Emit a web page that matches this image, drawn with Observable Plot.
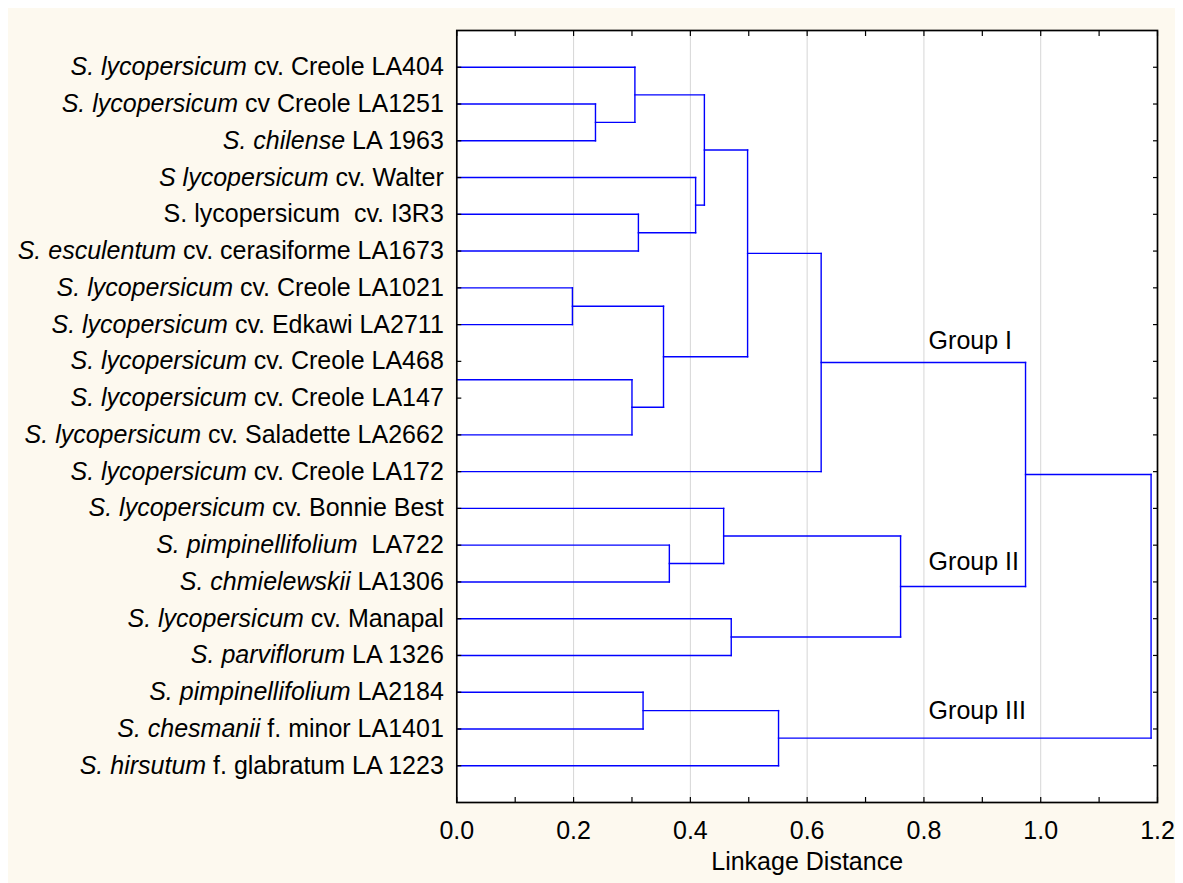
<!DOCTYPE html>
<html>
<head>
<meta charset="utf-8">
<script src="https://cdn.jsdelivr.net/npm/d3@7"></script>
<script src="https://cdn.jsdelivr.net/npm/@observablehq/plot@0.6"></script>
<style>
  html, body { margin: 0; padding: 0; background: #ffffff; }
  body { margin: 8px; }
  #chart { background: #fdf9ef; width: 1175px; height: 875px; overflow: hidden; }
  #chart svg text { white-space: pre; }
</style>
</head>
<body>
<div id="chart"></div>
<script>
// ---- Leaf labels (italic part + plain part), top to bottom ----
const italicPart = [
  "S. lycopersicum", "S. lycopersicum", "S. chilense", "S lycopersicum", "",
  "S. esculentum", "S. lycopersicum", "S. lycopersicum", "S. lycopersicum", "S. lycopersicum",
  "S. lycopersicum", "S. lycopersicum", "S. lycopersicum", "S. pimpinellifolium", "S. chmielewskii",
  "S. lycopersicum", "S. parviflorum", "S. pimpinellifolium", "S. chesmanii", "S. hirsutum"
];
const plainPart = [
  " cv. Creole LA404", " cv Creole LA1251", " LA 1963", " cv. Walter", "S. lycopersicum  cv. I3R3",
  " cv. cerasiforme LA1673", " cv. Creole LA1021", " cv. Edkawi LA2711", " cv. Creole LA468", " cv. Creole LA147",
  " cv. Saladette LA2662", " cv. Creole LA172", " cv. Bonnie Best", "  LA722", " LA1306",
  " cv. Manapal", " LA 1326", " LA2184", " f. minor LA1401", " f. glabratum LA 1223"
];
const labelRow = d3.range(20);

// ---- Tree leaves: row of each branch line as drawn in the figure ----
const branchRow = [0, 1, 2, 3, 4, 5, 6, 7, 8.5, 10, 11, 12, 13, 14, 15, 16, 17, 18, 19];

// ---- Merges (ids: leaves 0..18, merge k gets id 19+k) ----
const mergeLeft   = [1, 0, 4, 3, 20, 6, 8, 24, 23, 27, 12, 11, 14, 30, 28, 16, 34, 33];
const mergeRight  = [2, 19, 5, 21, 22, 7, 9, 25, 26, 10, 13, 29, 15, 31, 32, 17, 18, 35];
const mergeHeight = [0.2375, 0.305, 0.311, 0.409, 0.424, 0.198, 0.300, 0.354, 0.498, 0.624,
                     0.364, 0.457, 0.470, 0.760, 0.974, 0.319, 0.551, 1.189];

// ---- Group annotations ----
const groupName = ["Group I", "Group II", "Group III"];
const groupX = [0.808, 0.808, 0.808];
const groupY = [7.44, 13.45, 17.5];

// ---- Axis ticks ----
const xMajor = [0, 0.2, 0.4, 0.6, 0.8, 1.0, 1.2];
const xAll = d3.range(0, 13).map(i => i / 10);
const gridX = [0.2, 0.4, 0.6, 0.8, 1.0];

// ---- Build dendrogram segments ----
const nodeH = branchRow.map(() => 0);
const nodeY = branchRow.slice();
const segments = [];
mergeLeft.forEach((a, k) => {
  const b = mergeRight[k], h = mergeHeight[k];
  segments.push({x1: nodeH[a], y1: nodeY[a], x2: h, y2: nodeY[a]});
  segments.push({x1: nodeH[b], y1: nodeY[b], x2: h, y2: nodeY[b]});
  segments.push({x1: h, y1: nodeY[a], x2: h, y2: nodeY[b]});
  nodeH.push(h);
  nodeY.push((nodeY[a] + nodeY[b]) / 2);
});

const labels = labelRow.map((r, i) => ({row: r, full: italicPart[i] + plainPart[i]}));
const groups = groupName.map((g, i) => ({name: g, x: groupX[i], y: groupY[i]}));

const font = "'Liberation Sans', Arial, Helvetica, sans-serif";
const FS = 25;

const svg = Plot.plot({
  width: 1175,
  height: 875,
  marginLeft: 448.3,
  marginRight: 26,
  marginTop: 22,
  marginBottom: 81,
  style: {background: "transparent", fontFamily: font, fontSize: FS + "px", color: "#000"},
  x: {domain: [0, 1.2], label: null},
  y: {domain: [20, -1], label: null},
  marks: [
    Plot.frame({fill: "#ffffff", stroke: "none"}),
    Plot.ruleX(gridX, {stroke: "#d6d6d6", strokeWidth: 1}),
    Plot.link(segments, {x1: "x1", y1: "y1", x2: "x2", y2: "y2", stroke: "#0000ff", strokeWidth: 1.4, strokeLinecap: "square"}),
    Plot.frame({stroke: "#000", strokeWidth: 1.7}),
    Plot.axisX(xAll, {anchor: "bottom", tickSize: -5, fill: "none", label: null, stroke: "#000", strokeWidth: 1.2}),
    Plot.axisX(xAll, {anchor: "top", tickSize: -5, fill: "none", label: null, stroke: "#000", strokeWidth: 1.2}),
    Plot.axisX(xMajor, {anchor: "bottom", tickSize: 0, tickPadding: 19, tickFormat: d3.format(".1f"), fontSize: FS, fill: "#000", label: null}),
    Plot.axisY(labelRow, {anchor: "left", tickSize: -5, fill: "none", label: null, stroke: "#000", strokeWidth: 1.2}),
    Plot.axisY(labelRow, {anchor: "right", tickSize: -5, fill: "none", label: null, stroke: "#000", strokeWidth: 1.2}),
    Plot.text(labels, {x: 0, y: "row", text: "full", textAnchor: "end", dx: -13, fontSize: FS, fill: "#000"}),
    Plot.text(groups, {x: "x", y: "y", text: "name", textAnchor: "start", fontSize: FS, fill: "#000"}),
    Plot.text(["Linkage Distance"], {frameAnchor: "bottom", dy: 67, fontSize: FS, fill: "#000"})
  ]
});

// Italic genus/species part of each leaf label (match by full text)
const fullTexts = labels.map(d => d.full);
d3.select(svg).selectAll("text").each(function() {
  const i = fullTexts.indexOf(this.textContent);
  if (i < 0) return;
  const t = d3.select(this);
  t.attr("xml:space", "preserve").text(null);
  if (italicPart[i]) t.append("tspan").attr("font-style", "italic").text(italicPart[i]);
  t.append("tspan").text(plainPart[i]);
});

document.getElementById("chart").appendChild(svg);
</script>
</body>
</html>
